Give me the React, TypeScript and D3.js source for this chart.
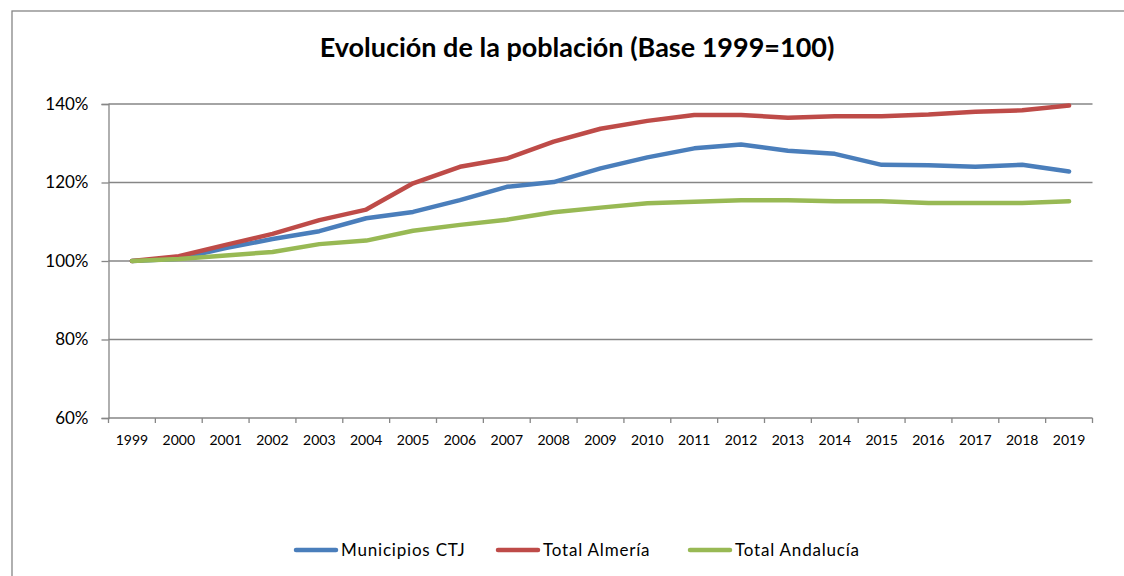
import * as d3 from 'd3';
import React, { useEffect, useRef } from 'react';

const years = ['1999', '2000', '2001', '2002', '2003', '2004', '2005', '2006', '2007', '2008', '2009', '2010',
    '2011', '2012', '2013', '2014', '2015', '2016', '2017', '2018', '2019'];

const municipiosCTJ = [100, 100.6, 103.3, 105.6, 107.6, 110.9, 112.5, 115.5, 118.9, 120.1, 123.6, 126.4,
    128.7, 129.7, 128.1, 127.3, 124.5, 124.4, 124.0, 124.5, 122.8];
const totalAlmeria = [100, 101.2, 104.1, 106.9, 110.4, 113.1, 119.8, 124.0, 126.1, 130.4, 133.7, 135.7,
    137.2, 137.2, 136.5, 136.9, 136.9, 137.3, 138.0, 138.4, 139.6];
const totalAndalucia = [100, 100.5, 101.4, 102.3, 104.3, 105.2, 107.7, 109.2, 110.5, 112.4, 113.6, 114.7,
    115.1, 115.5, 115.5, 115.2, 115.2, 114.8, 114.8, 114.8, 115.2];

const seriesNames = ['Municipios CTJ', 'Total Almería', 'Total Andalucía'];
const seriesColors = ['#4A7EBB', '#BE4B48', '#98B954'];
const yTicks = [60, 80, 100, 120, 140];

const FONT = 'Lato, "DejaVu Sans", sans-serif';

export default function App() {
    const ref = useRef<SVGSVGElement>(null);

    useEffect(() => {
        const svg = d3.select(ref.current);
        svg.selectAll('*').remove();

        const left = 108.5, right = 1092.5, top = 104, bottom = 418;

        // chart frame, runs off the right and bottom edges
        svg.append('rect')
            .attr('x', 12).attr('y', 11)
            .attr('width', 1200).attr('height', 700)
            .attr('fill', '#fff')
            .attr('stroke', '#868686')
            .attr('stroke-width', 1.3);

        svg.append('text')
            .attr('x', 577).attr('y', 57)
            .attr('text-anchor', 'middle')
            .attr('font-family', FONT)
            .attr('font-weight', 'bold')
            .attr('font-size', 27)
            .attr('fill', '#000')
            .text('Evolución de la población (Base 1999=100)');

        const x = d3.scaleBand().domain(years).range([left, right]);
        const y = d3.scaleLinear().domain([60, 140]).range([bottom, top]);

        const g = svg.append('g');

        // gridlines
        g.selectAll('.grid')
            .data(yTicks.filter(d => d > 60))
            .enter().append('line')
            .attr('x1', left).attr('x2', right)
            .attr('y1', d => y(d)).attr('y2', d => y(d))
            .attr('stroke', '#868686')
            .attr('stroke-width', 1.3);

        // y axis
        const yAxis = g.append('g')
            .attr('transform', `translate(${left},0)`)
            .call(d3.axisLeft(y).tickValues(yTicks).tickSize(7).tickPadding(13).tickFormat(d => `${d}%`));
        yAxis.select('.domain').attr('stroke', '#868686').attr('stroke-width', 1.3);
        yAxis.selectAll('.tick line').attr('stroke', '#868686').attr('stroke-width', 1.3);
        yAxis.selectAll('text')
            .attr('font-family', FONT)
            .attr('font-size', 17)
            .attr('fill', '#000');

        // x axis with ticks between categories
        const xAxis = g.append('g')
            .attr('transform', `translate(0,${bottom})`);
        xAxis.append('line')
            .attr('x1', left).attr('x2', right)
            .attr('stroke', '#868686').attr('stroke-width', 1.3);
        xAxis.selectAll('.tk')
            .data([...years.map(d => x(d)!), right])
            .enter().append('line')
            .attr('x1', d => d).attr('x2', d => d)
            .attr('y1', 0).attr('y2', 5)
            .attr('stroke', '#868686').attr('stroke-width', 1.3);
        xAxis.selectAll('.lbl')
            .data(years)
            .enter().append('text')
            .attr('x', d => x(d)! + x.bandwidth() / 2)
            .attr('y', 27)
            .attr('text-anchor', 'middle')
            .attr('font-family', FONT)
            .attr('font-size', 14)
            .attr('fill', '#000')
            .text(d => d);

        const line = d3.line<number>()
            .x((_, i) => x(years[i])! + x.bandwidth() / 2)
            .y(d => y(d));

        [municipiosCTJ, totalAlmeria, totalAndalucia].forEach((s, i) => {
            g.append('path')
                .datum(s)
                .attr('d', line)
                .attr('fill', 'none')
                .attr('stroke', seriesColors[i])
                .attr('stroke-width', 4.5)
                .attr('stroke-linejoin', 'round')
                .attr('stroke-linecap', 'round');
        });

        // legend
        const legendX = [296, 498, 690];
        const leg = svg.append('g').attr('transform', 'translate(0,550)');
        seriesNames.forEach((name, i) => {
            leg.append('line')
                .attr('x1', legendX[i]).attr('x2', legendX[i] + 40)
                .attr('stroke', seriesColors[i])
                .attr('stroke-width', 4.5)
                .attr('stroke-linecap', 'round');
            leg.append('text')
                .attr('x', legendX[i] + 45)
                .attr('y', 0)
                .attr('dy', '0.35em')
                .attr('font-family', FONT)
                .attr('font-size', 17)
                .attr('letter-spacing', 0.8)
                .attr('fill', '#000')
                .text(name);
        });
    }, []);

    return <svg ref={ref} width={1124} height={576}
        style={{ position: 'absolute', left: 0, top: 0, display: 'block' }} />;
}
